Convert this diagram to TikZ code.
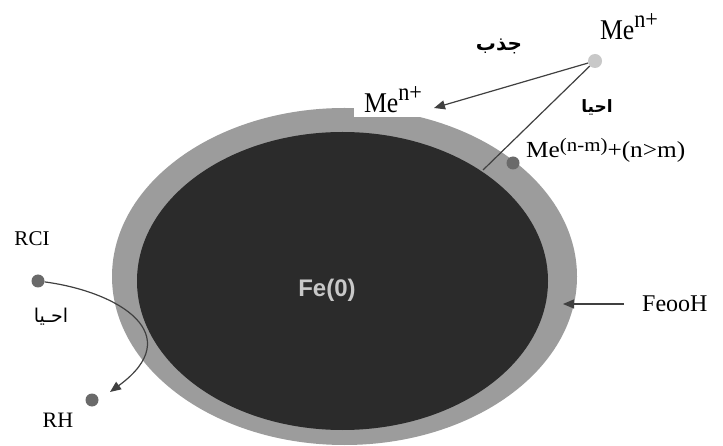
\documentclass[tikz,border=0pt]{standalone}
\usepackage{fontspec}
\usepackage{graphicx}
\setmainfont{Liberation Serif}
\newfontfamily\arabicfont[Script=Arabic]{DejaVu Sans}
\newfontfamily\labsans{Liberation Sans}
\TeXXeTstate=1
\usetikzlibrary{arrows.meta}
\definecolor{shell}{HTML}{9C9C9C}
\definecolor{core}{HTML}{2B2B2B}
\definecolor{lightdot}{HTML}{C8C8C8}
\definecolor{darkdot}{HTML}{6A6A6A}
\definecolor{linegray}{HTML}{404040}
\newcommand\metall{\scalebox{1.17}[1.3]{\fontsize{22}{24}\selectfont Me\raisebox{9pt}{\fontsize{19}{19}\selectfont n+}}}
\tikzset{
  lab/.style={font=\fontsize{22}{24}\selectfont, inner sep=2pt},
  arlab/.style={font=\arabicfont\bfseries\fontsize{17}{19}\selectfont, inner sep=1pt},
  dotlight/.style={circle, fill=lightdot, minimum size=14pt, inner sep=0pt},
  dotdark/.style={circle, fill=darkdot, minimum size=13pt, inner sep=0pt},
  conn/.style={draw=linegray, line width=1.2pt},
  tip/.style={-{Triangle[length=11pt,width=9pt]}}
}
\begin{document}
\begin{tikzpicture}[x=1pt,y=-1pt]
\useasboundingbox (0,0) rectangle (723,446);
\fill[white] (0,0) rectangle (723,446);
% particle
\fill[shell] (344.5,276.5) ellipse [x radius=232.5, y radius=168.5];
\fill[core] (342.5,281) ellipse [x radius=205.5, y radius=149];
\node[font=\labsans\bfseries\fontsize{24}{26}\selectfont, text=lightdot] (fe) at (327,290) {Fe(0)};
% top right
\node[dotlight] (me1) at (595,61) {};
\node[lab] (me1lab) at (629,27) {\metall};
\node[lab, fill=white, inner xsep=10pt, inner ysep=4pt] (me2lab) at (393,100) {\metall};
\node[arlab, font=\arabicfont\bfseries\fontsize{20}{22}\selectfont] (jadhb) at (499,46) {\beginR جذب\endR};
\node[arlab] (ihya1) at (597,107) {\beginR احيا\endR};
\node[dotdark] (mered) at (513,163) {};
\coordinate (redend) at (483,170);
\coordinate (oxend) at (434,108);
\node[lab, anchor=base west, inner sep=0pt] (me3lab) at (526,158) {\scalebox{1.1}[1]{\fontsize{23}{25}\selectfont Me\raisebox{6pt}{\fontsize{19}{19}\selectfont (n-m)}+(n>m)}};
\draw[conn, tip] (me1) -- (oxend);
\draw[conn] (me1) -- (redend);
% left
\node[dotdark] (rcl) at (38,281) {};
\node[lab, font=\fontsize{21}{23}\selectfont] (rcllab) at (32,239) {RCI};
\node[dotdark] (rh) at (92,400) {};
\node[lab] (rhlab) at (58,420) {RH};
\node[font=\arabicfont\fontsize{19}{21}\selectfont, inner sep=1pt] (ihya2) at (51,317) {\beginR احـيا\endR};
\coordinate (rhend) at (110,392);
\draw[conn, tip] (rcl) .. controls (120,292) and (188,335) .. (rhend);
% right
\node[lab, font=\fontsize{24}{26}\selectfont, fill=white, anchor=west, inner xsep=18pt] (feooh) at (624,304) {FeooH};
\coordinate (feoohend) at (563,304);
\draw[conn, tip] (feooh.west |- feoohend) -- (feoohend);
\end{tikzpicture}
\end{document}
